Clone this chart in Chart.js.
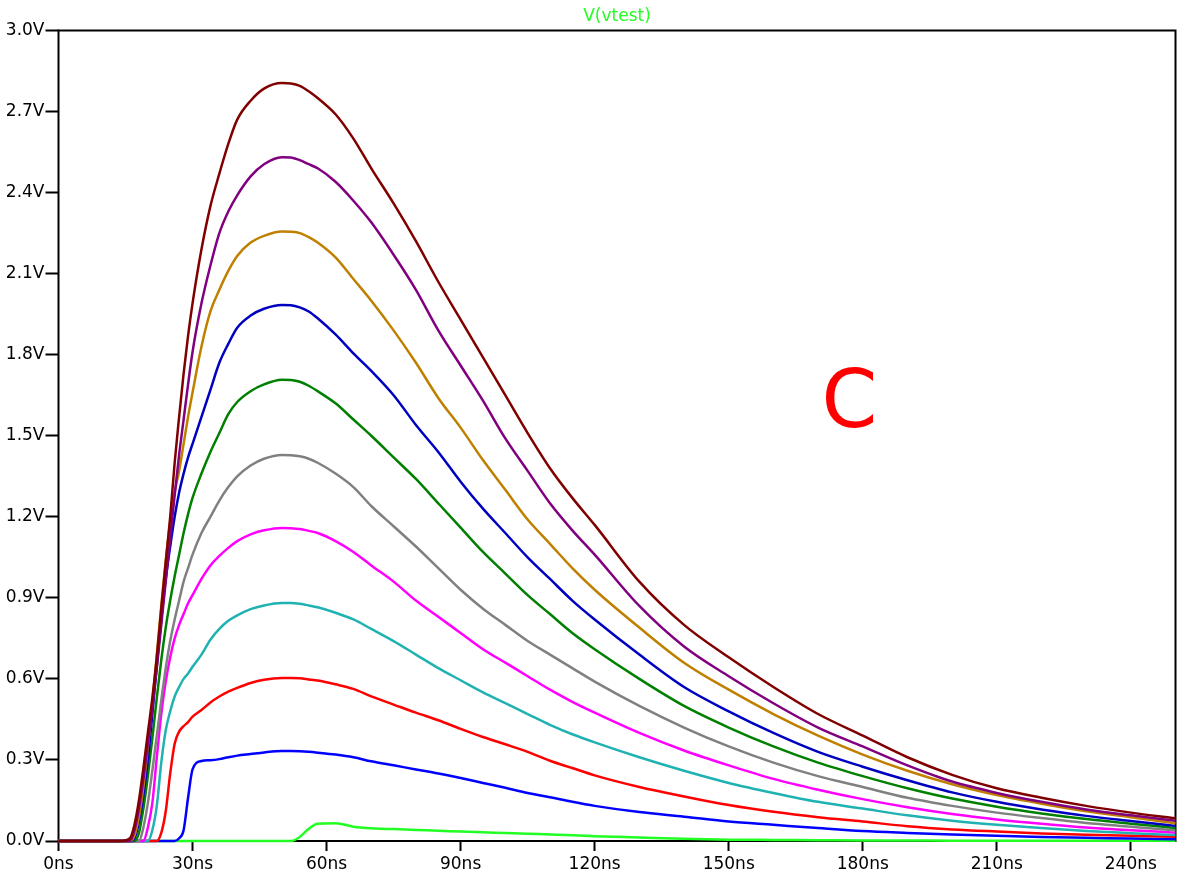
<!DOCTYPE html>
<html><head><meta charset="utf-8">
<style>html,body{margin:0;padding:0;background:#fff;}canvas{display:block;}</style>
<script src="https://cdn.jsdelivr.net/npm/chart.js@4.4.1/dist/chart.umd.min.js"></script>
</head><body>
<canvas id="c" width="1185" height="880"></canvas>
<script>
// time axis (ns)
const timeNs = [0,14,16,
  17,18,19,20,21,22,23,24,25,26,27,28,29,30,
  32,34,36,38,40,43,46,
  50,52,54,56,58,
  62,66,70,75,80,85,90,95,100,105,110,115,120,
  130,140,150,160,170,180,190,200,210,220,230,240,250];

// V(vtest) series (V)
const vMaroon = [0,0,0.01,
  0.06,0.15,0.27,0.40,0.53,0.68,0.86,1.03,1.20,1.40,1.57,1.73,1.87,1.99,
  2.19,2.35,2.47,2.58,2.67,2.74,2.785,
  2.806,2.804,2.795,2.775,2.75,
  2.69,2.60,2.49,2.36,2.22,2.07,1.93,1.79,1.65,1.51,1.38,1.27,1.17,
  0.96,0.80,0.68,0.57,0.47,0.39,0.31,0.245,0.195,0.16,0.13,0.105,0.084];
const vPurple = [0,0,0,
  0.04,0.12,0.23,0.36,0.49,0.64,0.80,0.96,1.12,1.28,1.43,1.56,1.69,1.81,
  1.99,2.13,2.25,2.33,2.39,2.46,2.505,
  2.531,2.53,2.52,2.505,2.49,
  2.44,2.37,2.29,2.17,2.04,1.89,1.76,1.63,1.49,1.37,1.25,1.15,1.06,
  0.87,0.72,0.61,0.51,0.42,0.35,0.28,0.22,0.178,0.145,0.117,0.095,0.075];
const vGold = [0,0,0,
  0.02,0.09,0.20,0.35,0.51,0.69,0.87,1.04,1.18,1.29,1.37,1.47,1.57,1.66,
  1.83,1.96,2.04,2.11,2.165,2.215,2.24,
  2.256,2.255,2.25,2.235,2.215,
  2.16,2.08,2.00,1.89,1.77,1.64,1.53,1.41,1.30,1.19,1.10,1.01,0.93,
  0.79,0.66,0.56,0.47,0.39,0.32,0.26,0.21,0.17,0.138,0.11,0.088,0.066];
const vNavy = [0,0,0,
  0.01,0.07,0.17,0.30,0.47,0.65,0.82,0.97,1.09,1.20,1.29,1.36,1.42,1.47,
  1.57,1.67,1.77,1.84,1.90,1.945,1.97,
  1.984,1.983,1.975,1.96,1.935,
  1.875,1.805,1.74,1.65,1.54,1.44,1.33,1.23,1.14,1.05,0.97,0.89,0.82,
  0.69,0.57,0.48,0.40,0.33,0.275,0.225,0.18,0.145,0.117,0.093,0.074,0.056];
const vDarkGreen = [0,0,0,
  0,0.03,0.12,0.24,0.38,0.53,0.67,0.79,0.89,0.98,1.06,1.14,1.21,1.27,
  1.36,1.44,1.51,1.58,1.625,1.665,1.69,
  1.707,1.706,1.70,1.685,1.665,
  1.62,1.56,1.50,1.42,1.34,1.25,1.16,1.07,0.99,0.91,0.84,0.77,0.71,
  0.60,0.50,0.42,0.35,0.29,0.24,0.195,0.157,0.127,0.102,0.081,0.064,0.048];
const vGray = [0,0,0,
  0,0,0.05,0.14,0.26,0.39,0.52,0.64,0.74,0.82,0.89,0.96,1.01,1.06,
  1.14,1.20,1.26,1.31,1.35,1.39,1.415,
  1.429,1.428,1.424,1.415,1.40,
  1.36,1.31,1.24,1.165,1.09,1.01,0.93,0.86,0.80,0.74,0.69,0.64,0.59,
  0.50,0.42,0.35,0.29,0.24,0.20,0.16,0.13,0.105,0.085,0.067,0.053,0.039];
const vMagenta = [0,0,0,
  0,0,0,0.05,0.14,0.31,0.47,0.59,0.68,0.75,0.80,0.84,0.88,0.91,
  0.97,1.02,1.055,1.085,1.11,1.135,1.15,
  1.159,1.158,1.155,1.148,1.14,
  1.11,1.07,1.02,0.96,0.89,0.83,0.77,0.71,0.66,0.61,0.56,0.515,0.475,
  0.40,0.335,0.28,0.23,0.19,0.155,0.125,0.10,0.08,0.064,0.05,0.04,0.031];
const vCyan = [0,0,0,
  0,0,0,0,0.04,0.13,0.29,0.41,0.48,0.535,0.57,0.60,0.62,0.645,
  0.69,0.745,0.785,0.815,0.835,0.858,0.872,
  0.881,0.881,0.878,0.872,0.865,
  0.845,0.82,0.785,0.74,0.69,0.64,0.595,0.55,0.51,0.47,0.43,0.395,0.365,
  0.31,0.26,0.215,0.178,0.145,0.12,0.095,0.075,0.06,0.048,0.037,0.029,0.022];
const vRed = [0,0,0,
  0,0,0,0,0,0,0.03,0.11,0.25,0.36,0.405,0.425,0.44,0.46,
  0.485,0.513,0.535,0.553,0.567,0.585,0.597,
  0.603,0.603,0.602,0.598,0.594,
  0.58,0.563,0.535,0.505,0.475,0.447,0.415,0.385,0.358,0.33,0.297,0.27,0.243,
  0.20,0.165,0.133,0.108,0.088,0.072,0.055,0.043,0.035,0.028,0.023,0.019,0.016];
const vBlue = [0,0,0,
  0,0,0,0,0,0,0,0,0,0,0.01,0.04,0.16,0.265,
  0.296,0.299,0.303,0.31,0.316,0.322,0.328,
  0.333,0.333,0.332,0.33,0.327,
  0.32,0.31,0.295,0.28,0.265,0.25,0.233,0.215,0.197,0.178,0.162,0.145,0.13,
  0.107,0.09,0.072,0.06,0.048,0.037,0.03,0.024,0.019,0.015,0.012,0.009,0.006];
const vGreen = [0,0,0,
  0,0,0,0,0,0,0,0,0,0,0,0,0,0,
  0,0,0,0,0,0,0,
  0,0,0.015,0.045,0.064,
  0.066,0.053,0.047,0.044,0.041,0.038,0.035,0.032,0.03,0.027,0.024,0.021,0.018,
  0.013,0.008,0.005,0.004,0.003,0.002,0.002,0.001,0.001,0.001,0.001,0.001,0.001];

const xTickValues = [0,30,60,90,120,150,180,210,240];
const yTickValues = [0,0.3,0.6,0.9,1.2,1.5,1.8,2.1,2.4,2.7,3.0];
const titleText = 'V(vtest)';
const noteText = 'C';
const noteAt = {t: 177, v: 1.61};

// drawn top-first: maroon on top
const seriesList = [
  [vMaroon, '#800000'],
  [vPurple, '#800080'],
  [vGold, '#bf8000'],
  [vNavy, '#0000c0'],
  [vDarkGreen, '#008000'],
  [vGray, '#808080'],
  [vMagenta, '#ff00ff'],
  [vCyan, '#20b2b2'],
  [vRed, '#ff0000'],
  [vBlue, '#0000ff'],
  [vGreen, '#22ff22']
];

const FONT = "'DejaVu Sans',sans-serif";

const framePlugin = {
  id: 'frame',
  beforeDatasetsDraw(chart) {
    const a = chart.chartArea, ctx = chart.ctx;
    ctx.save();
    ctx.strokeStyle = '#000';
    ctx.lineWidth = 2;
    ctx.strokeRect(a.left, a.top, a.right - a.left, a.bottom - a.top);
    ctx.fillStyle = '#22ff22';
    ctx.font = "17px " + FONT;
    ctx.textAlign = 'center';
    ctx.textBaseline = 'middle';
    ctx.fillText(titleText, (a.left + a.right) / 2, a.top - 14);
    ctx.restore();
  },
  afterDatasetsDraw(chart) {
    const ctx = chart.ctx;
    const x = chart.scales.x.getPixelForValue(noteAt.t);
    const y = chart.scales.y.getPixelForValue(noteAt.v);
    ctx.save();
    ctx.fillStyle = '#ff0000';
    ctx.font = "80px " + FONT;
    ctx.textAlign = 'center';
    ctx.textBaseline = 'middle';
    ctx.fillText(noteText, x, y);
    ctx.restore();
  }
};

new Chart(document.getElementById('c'), {
  type: 'line',
  data: {
    datasets: seriesList.map(([arr, col]) => ({
      data: timeNs.map((t, i) => ({x: t, y: arr[i]})),
      borderColor: col,
      borderWidth: 2.5,
      pointRadius: 0,
      fill: false,
      cubicInterpolationMode: 'monotone',
      clip: 3
    }))
  },
  options: {
    responsive: false,
    animation: false,
    devicePixelRatio: 1,
    layout: {padding: {top: 30.5, right: 9.5, left: 0, bottom: 0}},
    plugins: {
      legend: {display: false},
      tooltip: {enabled: false},
      title: {display: false}
    },
    scales: {
      x: {
        type: 'linear', min: 0, max: 250,
        afterBuildTicks: s => { s.ticks = xTickValues.map(v => ({value: v})); },
        afterFit: s => { s.height = 39; },
        grid: {display: true, drawOnChartArea: false, drawTicks: true, tickLength: 10, tickWidth: 2, tickColor: '#000'},
        border: {display: false},
        ticks: {color: '#000', font: {family: FONT, size: 17}, padding: 3, maxRotation: 0, autoSkip: false,
          callback: v => v + 'ns'}
      },
      y: {
        type: 'linear', min: 0, max: 3,
        afterBuildTicks: s => { s.ticks = yTickValues.map(v => ({value: v})); },
        afterFit: s => { s.width = 58.5; },
        grid: {display: true, drawOnChartArea: false, drawTicks: true, tickLength: 13, tickWidth: 2, tickColor: '#000'},
        border: {display: false},
        ticks: {color: '#000', font: {family: FONT, size: 17}, padding: 1, autoSkip: false,
          callback: v => v.toFixed(1) + 'V'}
      }
    }
  },
  plugins: [framePlugin]
});
</script>
</body></html>
